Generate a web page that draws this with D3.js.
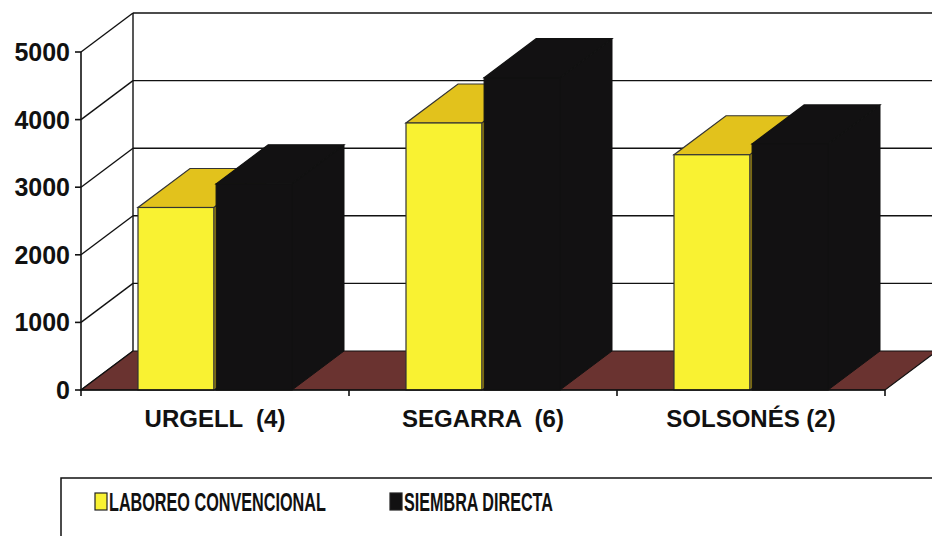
<!DOCTYPE html>
<html>
<head>
<meta charset="utf-8">
<script src="https://cdn.jsdelivr.net/npm/d3@7"></script>
<style>
  body { margin: 0; background: #fff; }
  text { font-family: "Liberation Sans", Arial, sans-serif; font-weight: bold; fill: #111; }
</style>
</head>
<body>
<script>
var categorias = ["URGELL  (4)", "SEGARRA  (6)", "SOLSONÉS (2)"];
var series = ["LABOREO CONVENCIONAL", "SIEMBRA DIRECTA"];
var laboreo = [2700, 3950, 3480];
var siembra = [3050, 4620, 3640];
var ticks = [0, 1000, 2000, 3000, 4000, 5000];

var colores = {
    "LABOREO CONVENCIONAL": { front: "#f9f232", top: "#e2c21c", side: "#c9ad12" },
    "SIEMBRA DIRECTA": { front: "#121112", top: "#121112", side: "#121112" }
};

function graficar(){
    var w = 932, h = 536;
    var dx = 52, dy = -39;   // profundidad 3D

    var svg = d3.select("body")
        .append("svg")
        .attr("width", w)
        .attr("height", h);

    var y = d3.scaleLinear().domain([0, 5000]).range([390, 52]);
    var x = d3.scaleBand().domain(categorias).range([81, 885]);
    var xs = d3.scaleBand().domain(series).range([57, 211]).paddingInner(0.03);

    function pt(px, py, z){
        return [px + z * dx, py + z * dy];
    }
    function poly(ps){
        return ps.map(function(p){ return p.join(","); }).join(" ");
    }

    // pared del fondo
    svg.append("rect")
        .attr("x", 81 + dx).attr("y", y(5000) + dy)
        .attr("width", 900).attr("height", y(0) - y(5000))
        .attr("fill", "#fff");

    svg.selectAll("line.grid")
        .data(ticks.slice(1))
        .enter().append("line")
        .attr("class", "grid")
        .attr("x1", 81 + dx).attr("x2", 885 + dx)
        .attr("y1", function(d){ return y(d) + dy; })
        .attr("y2", function(d){ return y(d) + dy; })
        .attr("stroke", "#111").attr("stroke-width", 1.4);

    // pared izquierda
    svg.selectAll("line.diag")
        .data(ticks)
        .enter().append("line")
        .attr("class", "diag")
        .attr("x1", 81).attr("x2", 81 + dx)
        .attr("y1", function(d){ return y(d); })
        .attr("y2", function(d){ return y(d) + dy; })
        .attr("stroke", "#111").attr("stroke-width", 1.4);

    svg.append("line")
        .attr("x1", 81 + dx).attr("x2", 81 + dx)
        .attr("y1", y(5000) + dy).attr("y2", y(0) + dy)
        .attr("stroke", "#111").attr("stroke-width", 1.4);

    // suelo
    svg.append("polygon")
        .attr("points", poly([pt(81, y(0), 0), pt(885, y(0), 0), pt(885, y(0), 1), pt(81, y(0), 1)]))
        .attr("fill", "#6a3330")
        .attr("stroke", "#111").attr("stroke-width", 1.2);

    // barras
    var datos = [];
    categorias.forEach(function(c, i){
        datos.push({ cat: c, serie: series[0], v: laboreo[i] });
        datos.push({ cat: c, serie: series[1], v: siembra[i] });
    });

    var barras = svg.selectAll("g.barra")
        .data(datos)
        .enter().append("g")
        .attr("class", "barra");

    barras.each(function(d){
        var g = d3.select(this);
        var x0 = x(d.cat) + xs(d.serie);
        var x1 = x0 + xs.bandwidth();
        var yt = y(d.v), yb = y(0);
        var col = colores[d.serie];
        var st = d.serie == series[0] ? "#333" : "#111";

        g.append("polygon")
            .attr("points", poly([pt(x1, yb, 0), pt(x1, yb, 1), pt(x1, yt, 1), pt(x1, yt, 0)]))
            .attr("fill", col.side).attr("stroke", st).attr("stroke-width", 1);
        g.append("polygon")
            .attr("points", poly([pt(x0, yt, 0), pt(x1, yt, 0), pt(x1, yt, 1), pt(x0, yt, 1)]))
            .attr("fill", col.top).attr("stroke", st).attr("stroke-width", 1.2);
        g.append("rect")
            .attr("x", x0).attr("y", yt)
            .attr("width", x1 - x0).attr("height", yb - yt)
            .attr("fill", col.front).attr("stroke", st).attr("stroke-width", 1.2);
    });

    // eje vertical
    svg.append("line")
        .attr("x1", 81).attr("x2", 81)
        .attr("y1", y(5000)).attr("y2", y(0))
        .attr("stroke", "#111").attr("stroke-width", 1.6);

    svg.selectAll("line.ytick")
        .data(ticks)
        .enter().append("line")
        .attr("class", "ytick")
        .attr("x1", 75).attr("x2", 81)
        .attr("y1", function(d){ return y(d); })
        .attr("y2", function(d){ return y(d); })
        .attr("stroke", "#111").attr("stroke-width", 1.6);

    svg.selectAll("text.ylab")
        .data(ticks)
        .enter().append("text")
        .attr("class", "ylab")
        .text(function(d){ return d; })
        .attr("x", 70)
        .attr("y", function(d){ return y(d); })
        .attr("dy", "0.36em")
        .attr("text-anchor", "end")
        .style("font-size", "25px");

    // eje horizontal
    svg.append("line")
        .attr("x1", 81).attr("x2", 885)
        .attr("y1", y(0)).attr("y2", y(0))
        .attr("stroke", "#111").attr("stroke-width", 1.6);

    svg.selectAll("line.xtick")
        .data(categorias.concat(["fin"]))
        .enter().append("line")
        .attr("class", "xtick")
        .attr("x1", function(d, i){ return 81 + i * x.bandwidth(); })
        .attr("x2", function(d, i){ return 81 + i * x.bandwidth(); })
        .attr("y1", y(0)).attr("y2", y(0) + 6)
        .attr("stroke", "#111").attr("stroke-width", 1.6);

    svg.selectAll("text.xlab")
        .data(categorias)
        .enter().append("text")
        .attr("class", "xlab")
        .text(function(d){ return d; })
        .attr("x", function(d){ return x(d) + x.bandwidth() / 2; })
        .attr("y", 427)
        .attr("text-anchor", "middle")
        .attr("xml:space", "preserve")
        .style("white-space", "pre")
        .style("font-size", "24px");

    // leyenda
    svg.append("rect")
        .attr("x", 61).attr("y", 478)
        .attr("width", 900).attr("height", 100)
        .attr("fill", "#fff")
        .attr("stroke", "#111").attr("stroke-width", 1.5);

    var leyX = [95, 390];
    var leyW = [217, 149];
    series.forEach(function(s, i){
        svg.append("rect")
            .attr("x", leyX[i]).attr("y", 493)
            .attr("width", 12).attr("height", 17)
            .attr("fill", colores[s].front)
            .attr("stroke", "#222").attr("stroke-width", 1.2);
        var t = svg.append("text")
            .text(s)
            .style("font-size", "25px");
        // fuente estrecha: se comprime en horizontal
        var sx = leyW[i] / t.node().getComputedTextLength();
        t.attr("transform", "translate(" + (leyX[i] + 14) + ",511) scale(" + sx + ",1)");
    });
}

graficar();
</script>
</body>
</html>
